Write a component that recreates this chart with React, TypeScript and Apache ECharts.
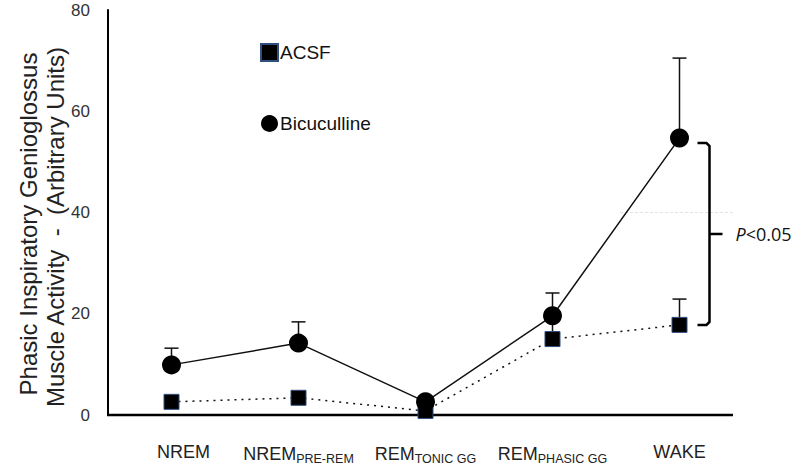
import React, { useEffect, useRef } from "react";
import * as echarts from "echarts";

const categories = [
  "NREM",
  "NREM{sub|PRE-REM}",
  "REM{sub|TONIC GG}",
  "REM{sub|PHASIC GG}",
  "WAKE",
];
const acsf = [2.6, 3.4, 0.8, 15.0, 17.8];
const acsfErr = [0, 0, 0, 4.0, 5.1];
const bicuculline = [9.9, 14.2, 2.6, 19.6, 54.7];
const bicucullineErr = [3.3, 4.2, 0, 4.5, 15.8];
const yTicks = { min: 0, max: 80, interval: 20 };
const pText = "P<0.05";

function errData(vals: number[], errs: number[]) {
  return vals.map((v, i) => [i, v, errs[i]]);
}

function errorRender(params: any, api: any) {
  const i = api.value(0);
  const v = api.value(1);
  const e = api.value(2);
  if (!e) return { type: "group", children: [] };
  const p0 = api.coord([i, v]);
  const p1 = api.coord([i, v + e]);
  const style = { stroke: "#111", lineWidth: 1.5 };
  return {
    type: "group",
    children: [
      { type: "line", shape: { x1: p0[0], y1: p0[1], x2: p1[0], y2: p1[1] }, style },
      { type: "line", shape: { x1: p1[0] - 7, y1: p1[1], x2: p1[0] + 7, y2: p1[1] }, style },
    ],
  };
}

export default function App() {
  const ref = useRef<HTMLDivElement>(null);
  useEffect(() => {
    if (!ref.current) return;
    const chart = echarts.init(ref.current, undefined, { renderer: "svg" });
    const font = "Liberation Sans, Arial, sans-serif";
    chart.setOption({
      animation: false,
      backgroundColor: "#fff",
      grid: { left: 108, top: 10, bottom: 52, width: 635 },
      legend: {
        orient: "vertical",
        left: 255,
        top: 38,
        itemGap: 52,
        itemWidth: 17,
        itemHeight: 17,
        textStyle: { fontSize: 19, fontFamily: font, color: "#111", padding: [0, 0, 0, -3] },
        data: [
          { name: "ACSF", icon: "rect" },
          { name: "Bicuculline", icon: "circle" },
        ],
      },
      xAxis: {
        type: "category",
        data: categories,
        axisLine: { show: false },
        axisTick: { show: false },
        axisLabel: {
          interval: 0,
          margin: 28,
          fontFamily: font,
          fontSize: 18,
          color: "#222",
          formatter: (v: string, i: number) => (i === 0 ? "{shift|" + v + "}" : v),
          rich: {
            sub: { fontSize: 12.5, fontFamily: font, color: "#222", padding: [9, 0, 0, 0] },
            shift: { fontSize: 18, fontFamily: font, color: "#222", padding: [0, 0, 0, 24] },
          },
        },
      },
      yAxis: {
        type: "value",
        min: yTicks.min,
        max: yTicks.max,
        interval: yTicks.interval,
        axisLine: { show: true, lineStyle: { color: "#000", width: 2 } },
        axisTick: { show: false },
        splitLine: { show: false },
        axisLabel: { margin: 18, fontSize: 17, fontFamily: font, color: "#333" },
      },
      series: [
        {
          type: "custom",
          name: "acsfErr",
          renderItem: errorRender,
          data: errData(acsf, acsfErr),
          z: 1,
          silent: true,
        },
        {
          type: "custom",
          name: "bicErr",
          renderItem: errorRender,
          data: errData(bicuculline, bicucullineErr),
          z: 1,
          silent: true,
        },
        {
          type: "line",
          name: "ACSF",
          data: acsf,
          symbol: "rect",
          symbolSize: 15,
          itemStyle: { color: "#000", borderColor: "#2f4f7f", borderWidth: 1 },
          lineStyle: { color: "#111", width: 1.5, type: [2, 5] },
          z: 3,
        },
        {
          type: "line",
          name: "Bicuculline",
          data: bicuculline,
          symbol: "circle",
          symbolSize: 19,
          itemStyle: { color: "#000" },
          lineStyle: { color: "#111", width: 1.5 },
          z: 4,
        },
      ],
    });

    const c = (i: number, v: number) =>
      chart.convertToPixel({ xAxisIndex: 0, yAxisIndex: 0 }, [i, v]) as number[];
    const origin = c(0, 0);
    const wakeTop = c(4, bicuculline[4]);
    const wakeBot = c(4, acsf[4]);
    const bx = wakeTop[0] + 30;
    const top = wakeTop[1] + 5;
    const bot = wakeBot[1];
    const mid = (top + bot) / 2;
    const y40 = c(4, 40)[1];
    const bs = { stroke: "#000", lineWidth: 2.5, fill: null };
    chart.setOption({
      graphic: [
        {
          type: "line",
          shape: { x1: 107, y1: origin[1], x2: 733, y2: origin[1] },
          style: { stroke: "#000", lineWidth: 2.5 },
        },
        {
          type: "line",
          shape: { x1: 620, y1: y40, x2: 735, y2: y40 },
          style: { stroke: "#e4e4e4", lineWidth: 1, lineDash: [3, 2] },
          z: -1,
        },
        {
          type: "polyline",
          shape: {
            points: [
              [bx - 12, top],
              [bx - 3, top],
              [bx, top + 3],
              [bx, bot - 3],
              [bx - 3, bot],
              [bx - 12, bot],
            ],
          },
          style: bs,
        },
        {
          type: "line",
          shape: { x1: bx, y1: mid, x2: bx + 13, y2: mid },
          style: { stroke: "#000", lineWidth: 2.5 },
        },
        {
          type: "text",
          x: bx + 26,
          y: mid,
          style: {
            text: "{i|P}{n|" + pText.slice(1) + "}",
            verticalAlign: "middle",
            rich: {
              i: { fontSize: 18, fontStyle: "italic", fontFamily: "Open Sans, sans-serif", fill: "#111" },
              n: { fontSize: 18, fontFamily: "Open Sans, sans-serif", fill: "#111" },
            },
          },
        },
        {
          type: "text",
          x: 28,
          y: 224,
          rotation: Math.PI / 2,
          style: {
            text: "Phasic Inspiratory Genioglossus",
            fontSize: 24,
            fontFamily: font,
            fill: "#222",
            align: "center",
            verticalAlign: "middle",
          },
        },
        {
          type: "text",
          x: 55,
          y: 227,
          rotation: Math.PI / 2,
          style: {
            text: "Muscle Activity  -  (Arbitrary Units)",
            fontSize: 24,
            fontFamily: font,
            fill: "#222",
            align: "center",
            verticalAlign: "middle",
          },
        },
      ],
    });
    return () => chart.dispose();
  }, []);
  return (
    <div
      ref={ref}
      style={{ position: "absolute", left: 0, top: 0, width: 800, height: 467 }}
    />
  );
}
